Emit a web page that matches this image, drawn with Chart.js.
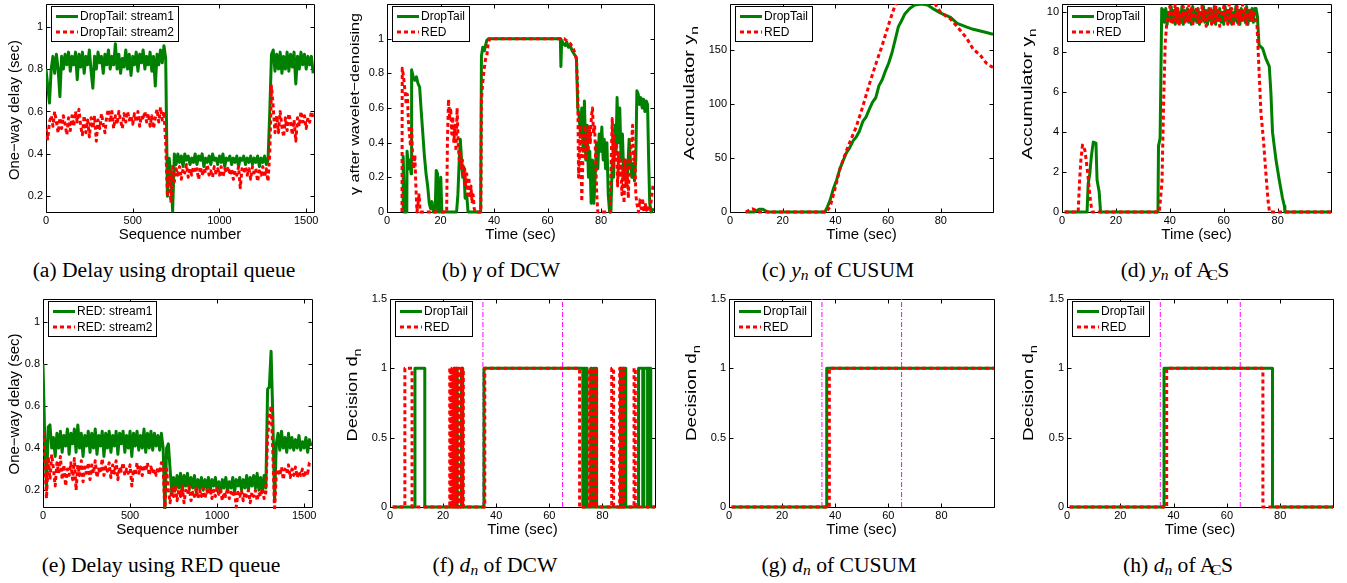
<!DOCTYPE html>
<html><head><meta charset="utf-8">
<script src="https://cdn.jsdelivr.net/npm/chart.js@4.4.0/dist/chart.umd.min.js"></script>
<style>
html,body{margin:0;padding:0;background:#fff;width:1347px;height:583px;overflow:hidden;position:relative;}
canvas{position:absolute;}
.cap{position:absolute;width:320px;text-align:center;font-family:"Liberation Serif","Times New Roman",serif;font-size:20px;line-height:20px;color:#000;white-space:nowrap;transform:scaleX(1.08);}
.cap sub{font-size:0.72em;vertical-align:-0.22em;line-height:0;}
.acs{font-size:0.78em;position:relative;top:0.2em;margin-left:-0.3em;margin-right:-0.04em;}
</style></head><body>
<canvas id="ca"></canvas><canvas id="cb"></canvas><canvas id="cc"></canvas><canvas id="cd"></canvas>
<canvas id="ce"></canvas><canvas id="cf"></canvas><canvas id="cg"></canvas><canvas id="ch"></canvas>
<div class="cap" style="left:4px;top:260px">(a) Delay using droptail queue</div>
<div class="cap" style="left:341px;top:260px">(b) <i>γ</i> of DCW</div>
<div class="cap" style="left:678px;top:260px">(c) <i>y</i><sub><i>n</i></sub> of CUSUM</div>
<div class="cap" style="left:1015px;top:260px">(d) <i>y</i><sub><i>n</i></sub> of A<span class="acs">C</span>S</div>
<div class="cap" style="left:1px;top:555px">(e) Delay using RED queue</div>
<div class="cap" style="left:335px;top:555px">(f) <i>d</i><sub><i>n</i></sub> of DCW</div>
<div class="cap" style="left:679px;top:555px">(g) <i>d</i><sub><i>n</i></sub> of CUSUM</div>
<div class="cap" style="left:1018px;top:555px">(h) <i>d</i><sub><i>n</i></sub> of A<span class="acs">C</span>S</div>
<script>
// ---------- tick labels ----------
const TICKS_SEQ = [0, 500, 1000, 1500];
const TICKS_TIME = [0, 20, 40, 60, 80];
const TICKS_DELAY = [0.2, 0.4, 0.6, 0.8, 1];
const TICKS_GAMMA = [0, 0.2, 0.4, 0.6, 0.8, 1];
const TICKS_CUSUM = [0, 50, 100, 150];
const TICKS_ACS = [0, 2, 4, 6, 8, 10];
const TICKS_DEC = [0, 0.5, 1, 1.5];
const ATTACK_LINES = [35, 65];

// ---------- (a) droptail delays, one value every SEQ_STEP sequence numbers ----------
const SEQ_STEP = 10;
const A_STREAM1 = [0.80,0.72,0.64,0.80,0.86,0.78,0.87,0.80,0.67,0.86,
0.80,0.87,0.82,0.88,0.79,0.86,0.82,0.88,0.75,0.87,
0.81,0.88,0.78,0.86,0.82,0.89,0.79,0.71,0.86,0.80,
0.88,0.83,0.86,0.78,0.87,0.82,0.89,0.80,0.86,0.82,
0.92,0.80,0.87,0.78,0.85,0.81,0.89,0.80,0.87,0.77,
0.86,0.82,0.88,0.79,0.87,0.83,0.89,0.80,0.86,0.82,
0.88,0.79,0.86,0.72,0.87,0.82,0.89,0.83,0.91,0.85,
0.20,0.38,0.30,0.13,0.40,0.35,0.40,0.36,0.39,0.34,
0.40,0.37,0.39,0.35,0.38,0.36,0.40,0.35,0.39,0.37,
0.40,0.34,0.38,0.36,0.39,0.35,0.40,0.37,0.38,0.35,
0.39,0.36,0.40,0.34,0.38,0.37,0.39,0.35,0.38,0.36,
0.39,0.34,0.38,0.37,0.39,0.35,0.38,0.36,0.39,0.35,
0.38,0.36,0.39,0.34,0.38,0.36,0.39,0.35,0.37,0.60,
0.87,0.89,0.79,0.87,0.80,0.88,0.78,0.86,0.80,0.88,
0.79,0.87,0.81,0.88,0.73,0.86,0.80,0.88,0.82,0.87,
0.80,0.86,0.82,0.86,0.78];
const A_STREAM2 = [0.52,0.47,0.55,0.58,0.53,0.60,0.55,0.50,0.57,0.52,
0.58,0.54,0.49,0.57,0.51,0.58,0.53,0.60,0.55,0.61,
0.53,0.49,0.58,0.50,0.56,0.48,0.57,0.52,0.58,0.46,
0.56,0.52,0.59,0.54,0.50,0.58,0.61,0.55,0.60,0.52,
0.58,0.54,0.60,0.56,0.52,0.59,0.55,0.60,0.56,0.58,
0.54,0.59,0.55,0.60,0.53,0.58,0.56,0.60,0.55,0.59,
0.53,0.58,0.52,0.57,0.61,0.55,0.62,0.56,0.60,0.45,
0.20,0.32,0.17,0.34,0.27,0.33,0.30,0.34,0.28,0.33,
0.31,0.35,0.29,0.33,0.30,0.34,0.31,0.33,0.28,0.34,
0.30,0.33,0.31,0.35,0.30,0.32,0.29,0.34,0.31,0.33,
0.30,0.34,0.29,0.33,0.31,0.34,0.30,0.33,0.28,0.32,
0.30,0.34,0.24,0.33,0.31,0.34,0.30,0.33,0.28,0.34,
0.31,0.33,0.27,0.32,0.30,0.34,0.29,0.33,0.27,0.40,
0.72,0.62,0.50,0.58,0.50,0.60,0.53,0.48,0.57,0.51,
0.59,0.55,0.49,0.56,0.46,0.57,0.53,0.60,0.55,0.58,
0.52,0.57,0.55,0.60,0.57];

// ---------- (e) RED delays ----------
const E_STREAM1 = [0.80,0.45,0.20,0.50,0.51,0.40,0.45,0.36,0.47,0.40,
0.48,0.38,0.46,0.41,0.49,0.37,0.47,0.42,0.49,0.38,
0.51,0.40,0.47,0.36,0.46,0.41,0.48,0.38,0.47,0.40,
0.49,0.37,0.46,0.41,0.48,0.36,0.47,0.40,0.48,0.38,
0.46,0.41,0.48,0.37,0.47,0.42,0.48,0.38,0.46,0.40,
0.48,0.36,0.47,0.41,0.48,0.39,0.46,0.40,0.49,0.38,
0.47,0.40,0.48,0.39,0.47,0.41,0.46,0.39,0.47,0.40,
0.10,0.40,0.42,0.30,0.18,0.26,0.20,0.27,0.21,0.28,
0.19,0.27,0.22,0.28,0.20,0.26,0.21,0.27,0.19,0.25,
0.21,0.26,0.20,0.25,0.21,0.26,0.19,0.25,0.22,0.26,
0.20,0.24,0.19,0.25,0.21,0.26,0.20,0.24,0.21,0.26,
0.19,0.25,0.22,0.26,0.20,0.25,0.21,0.27,0.20,0.26,
0.22,0.27,0.21,0.28,0.20,0.26,0.19,0.27,0.21,0.68,
0.69,0.86,0.55,0.15,0.42,0.47,0.39,0.48,0.40,0.45,
0.38,0.47,0.40,0.45,0.39,0.44,0.40,0.46,0.39,0.43,
0.40,0.45,0.38,0.44,0.41];
const E_STREAM2 = [0.48,0.35,0.16,0.36,0.25,0.37,0.30,0.22,0.33,0.28,
0.36,0.25,0.32,0.22,0.30,0.27,0.33,0.25,0.35,0.20,
0.32,0.27,0.34,0.24,0.31,0.28,0.33,0.25,0.32,0.28,
0.34,0.26,0.30,0.28,0.35,0.27,0.31,0.29,0.33,0.26,
0.32,0.28,0.34,0.25,0.31,0.29,0.33,0.27,0.30,0.28,
0.32,0.22,0.30,0.27,0.33,0.28,0.31,0.27,0.32,0.29,
0.33,0.27,0.31,0.28,0.30,0.27,0.31,0.28,0.33,0.30,
0.10,0.30,0.20,0.14,0.21,0.17,0.22,0.15,0.20,0.17,
0.22,0.14,0.20,0.18,0.22,0.15,0.19,0.17,0.21,0.16,
0.20,0.17,0.21,0.16,0.20,0.18,0.21,0.16,0.20,0.17,
0.21,0.18,0.20,0.15,0.19,0.17,0.21,0.16,0.19,0.17,
0.20,0.12,0.19,0.17,0.20,0.15,0.19,0.17,0.20,0.14,
0.19,0.17,0.20,0.15,0.19,0.17,0.21,0.16,0.19,0.45,
0.55,0.60,0.38,0.10,0.28,0.30,0.27,0.31,0.25,0.30,
0.28,0.32,0.26,0.30,0.27,0.31,0.26,0.29,0.27,0.30,
0.26,0.29,0.28,0.33,0.34];

// ---------- (b) gamma of DCW: [time, gamma] ----------
const B_DROPTAIL = [[6.0,0],[6.05,0.32],[6.6,0],[7.4,0],[7.5,0.35],[8.1,0.25],[8.6,0.30],[9.0,0.22],[9.2,0.82],[9.8,0.78],
[10.4,0.76],[11.0,0.78],[11.6,0.74],[12.2,0.72],[12.8,0.58],[13.4,0.45],[14.0,0.32],[14.6,0.22],[15.2,0.15],[15.8,0.05],
[16.3,0.02],[16.8,0.06],[17.3,0],[18.0,0],[18.4,0.24],[18.9,0.22],[19.2,0],[19.8,0],[20.1,0.20],[20.5,0],
[26.0,0],[26.5,0.10],[27.0,0.30],[27.4,0.42],[27.8,0.32],[28.3,0.20],[28.7,0.26],[29.2,0.08],[29.8,0.10],[30.3,0],
[35.0,0],[35.3,0.90],[35.8,0.95],[36.4,0.93],[36.8,0.96],[37.3,0.99],[38.0,1],[64.8,1],[65.0,0.84],[65.3,0.99],
[66.0,0.97],[66.6,0.96],[67.2,0.98],[67.8,0.95],[68.5,0.96],[69.2,0.93],[70.0,0.91],[70.8,0.89],[71.3,0.60],[71.8,0.55],
[72.3,0.45],[72.8,0.60],[73.3,0.35],[73.8,0.64],[74.3,0.30],[74.8,0.50],[75.3,0.20],[75.8,0.35],[76.3,0.05],[76.8,0.30],
[77.3,0.05],[77.8,0.20],[78.3,0.40],[78.8,0.25],[79.3,0.45],[79.8,0.35],[80.3,0.49],[80.8,0.30],[81.2,0.42],[81.7,0.25],
[82.2,0.40],[82.7,0.10],[83.2,0],[83.7,0],[84.2,0.30],[84.7,0.20],[85.2,0.50],[85.6,0.35],[86.0,0.66],[86.5,0.40],
[87.0,0.60],[87.5,0.30],[88.0,0.45],[88.5,0.20],[89.0,0.30],[89.5,0.15],[90.0,0.25],[90.5,0.42],[91.0,0.30],[91.5,0.20],
[92.0,0.28],[92.5,0.18],[93.0,0.30],[93.4,0.70],[93.9,0.68],[94.4,0.62],[94.9,0.66],[95.4,0.60],[95.9,0.65],[96.4,0.58],
[96.9,0.64],[97.4,0.62],[97.8,0.30],[98.2,0.05],[98.7,0],[99.8,0.02]];
const B_RED = [[5.6,0],[5.7,0.83],[6.2,0.78],[6.7,0.70],[7.2,0.62],[7.6,0.68],[8.0,0.52],[8.4,0.45],[8.8,0.38],[9.2,0.48],
[9.6,0.30],[10.0,0.25],[10.4,0.33],[10.8,0.15],[11.2,0],[12.0,0.10],[12.4,0],[22.3,0],[22.6,0.42],[23.0,0.65],
[23.4,0.55],[23.8,0.60],[24.2,0.45],[24.6,0.55],[25.0,0.40],[25.4,0.50],[25.8,0.35],[26.2,0.60],[26.6,0.40],[27.0,0.30],
[27.4,0.35],[27.8,0.25],[28.2,0.30],[28.6,0.20],[29.0,0.25],[29.4,0.15],[29.8,0.22],[30.2,0.10],[30.6,0.20],[31.0,0.08],
[31.4,0.15],[31.8,0.05],[32.2,0.10],[32.6,0.02],[33.0,0],[35.1,0],[35.3,0.65],[35.8,0.75],[36.3,0.82],[36.8,0.88],
[37.3,0.90],[37.8,0.97],[38.4,1],[66.2,1],[67.0,0.99],[67.8,0.98],[68.6,0.97],[69.4,0.95],[70.2,0.92],[70.8,0.88],
[71.3,0.70],[71.6,0.20],[72.0,0.35],[72.4,0.50],[72.8,0.06],[73.2,0.30],[73.6,0.45],[74.0,0.50],[74.4,0.30],[74.8,0.45],
[75.2,0.35],[75.6,0.50],[76.0,0.40],[76.4,0.55],[76.8,0.60],[77.2,0.45],[77.6,0.50],[78.0,0.30],[78.4,0.10],[78.8,0],
[83.4,0],[83.8,0.30],[84.2,0.54],[84.6,0.25],[85.0,0.45],[85.4,0.30],[85.8,0.40],[86.2,0.15],[86.6,0.35],[87.0,0.20],
[87.4,0.30],[87.8,0.10],[88.2,0.25],[88.6,0.05],[89.0,0.30],[89.4,0.15],[89.8,0.22],[90.2,0.08],[90.6,0.30],[91.0,0.35],
[91.4,0.40],[91.8,0.50],[92.2,0.30],[92.6,0.35],[93.0,0.10],[93.4,0.05],[94.0,0],[94.5,0.07],[95.0,0.02],[95.5,0.08],
[96.0,0],[96.5,0.05],[97.0,0.01],[97.5,0.04],[98.0,0],[98.5,0.03],[99.0,0.10],[99.5,0.16]];

// ---------- (c) CUSUM accumulator: [time, y] ----------
const C_DROPTAIL = [[6,0],[9,0],[10,1],[11,2.5],[12.5,2.5],[13.5,1],[14.5,0],[36,0],[37,5],[38,11],
[39.3,22],[40.5,30],[41.7,40],[43,48],[44.2,55],[45.5,60],[46.7,66],[48,70],[49.1,75],[50.4,84],
[51.6,88],[52.8,95],[54.1,102],[55.3,106],[56.5,117],[57.8,123],[59,131],[60.2,138],[61.5,148],[62.7,160],
[63.9,172],[65,177],[66.4,184],[68.3,189],[70.1,192],[72.6,193],[75,192],[77.5,188],[80,184.5],[83.7,180.5],
[86.2,175],[89.9,171.5],[92.3,169.5],[95,168],[97.3,166.5],[99.8,165]];
const C_RED = [[6,0],[7.5,2],[8.5,3],[9.5,2],[10.5,0],[36.5,0],[38,5],[40,23],[41.7,40],[44.2,57],
[46,68],[47.9,79],[50.4,98],[52.8,118],[55.3,137],[57.8,155],[60.2,174],[62.1,188],[64,200],[67,210],
[70,214],[73,212],[76,202],[78.1,192],[80,185],[83.7,179],[86.2,172],[89.9,161],[92.3,151],[94.8,146],
[97.3,138],[99.8,134]];

// ---------- (d) ACS accumulator ----------
const D_DROPTAIL_RISE = [[1,0],[9.3,0],[9.7,1.4],[10.3,1.9],[10.9,2.8],[11.6,3.5],[12.6,3.45],[13.0,1.6],[13.8,1.0],[14.3,0],
[35.6,0],[35.8,3.3],[36.4,3.7],[37.0,10.2]];
const D_PLATEAU_STEP = 0.5;
const D_DROPTAIL_PLATEAU_START = 37.5;
const D_DROPTAIL_PLATEAU = [10.1,9.5,10.2,9.4,10.0,9.6,10.3,9.5,10.1,9.4,
10.2,9.6,10.0,9.5,10.3,9.4,10.1,9.6,10.2,9.5,
10.0,9.4,10.3,9.6,10.1,9.5,10.2,9.4,10.0,9.6,
10.3,9.5,10.1,9.4,10.2,9.6,10.0,9.5,10.3,9.4,
10.1,9.6,10.2,9.5,10.0,9.4,10.3,9.6,10.1,9.5,
10.2,9.4,10.0,9.6,10.3,9.5,10.1,9.4,10.2,9.6,
10.0,9.5,10.3,9.4,10.1,9.6,10.2,9.5,10.2];
const D_DROPTAIL_FALL = [[72.0,10.2],[72.5,9.8],[73.1,8.36],[74.4,8.2],[75.6,7.7],[76.9,7.3],[77.5,6.0],[78.1,4.0],[79.4,2.6],[80.6,1.6],
[81.8,0.7],[82.5,0.3],[82.7,0],[99.8,0]];
const D_RED_RISE = [[1,0],[6.0,0],[6.5,1.5],[7.0,2.6],[7.6,3.35],[8.5,3.1],[9.5,2.0],[10.6,0.5],[11.2,0],[36.1,0],
[37.1,1.5],[37.7,5.5],[38.3,8.5],[38.9,9.5]];
const D_RED_PLATEAU_START = 39.5;
const D_RED_PLATEAU = [9.8,10.3,9.4,10.1,9.6,10.4,9.5,10.2,9.3,10.0,
9.7,10.3,9.4,10.1,9.5,10.4,9.6,10.2,9.3,10.0,
9.8,10.3,9.5,10.1,9.4,10.4,9.6,10.2,9.3,10.0,
9.7,10.3,9.4,10.1,9.5,10.4,9.6,10.2,9.3,10.0,
9.8,10.3,9.5,10.1,9.4,10.4,9.6,10.2,9.3,10.0,
9.7,10.3,9.4,10.1,9.5,10.4,9.6,10.2,9.3,10.0,
9.8,10.2,9.5,10.0,9.7,9.6];
const D_RED_FALL = [[72.3,9.5],[72.8,8.0],[73.8,5.0],[74.8,3.5],[75.6,2.0],[76.5,0.5],[77.0,0],[99.8,0]];

// ---------- (f)(g)(h) decisions: [time from which value holds, value] ----------
const F_DROPTAIL = [[1,0],[9.4,1],[13.1,0],[24.2,1],[24.6,0],[25.0,1],[25.3,0],[26.9,1],[27.4,0],[35.4,1],
[72.6,0],[73.0,1],[73.4,0],[73.8,1],[74.2,0],[75.6,1],[76.0,0],[76.6,1],[77.0,0],[77.4,1],
[77.8,0],[86.8,1],[87.4,0],[88.0,1],[88.8,0],[93.6,1],[95.2,0],[95.6,1],[97.0,0],[97.3,1],
[98.2,0],[99.8,0]];
const F_RED = [[1,0],[5.6,1],[8.3,0],[22.5,1],[22.9,0],[23.3,1],[23.7,0],[24.1,1],[24.5,0],[24.9,1],
[25.3,0],[25.7,1],[26.1,0],[27.0,1],[27.6,0],[35.7,1],[71.4,0],[75.0,1],[75.4,0],[75.8,1],
[76.2,0],[76.6,1],[77.0,0],[77.4,1],[77.8,0],[83.5,1],[84.2,0],[86.5,1],[87.0,0],[87.6,1],
[88.0,0],[91.9,1],[92.4,0],[99.8,0]];
const G_DROPTAIL = [[1,0],[36.8,1],[99.8,1]];
const G_RED = [[1,0],[37.8,1],[99.8,1]];
const H_DROPTAIL = [[1,0],[36.4,1],[77.1,0],[99.8,0]];
const H_RED = [[1,0],[37.4,1],[73.5,0],[99.8,0]];

// ---------- helpers ----------
const GREEN = '#008000', RED = '#ff0000', MAG = '#ff00ff';
const SANS = '"Liberation Sans", Arial, Helvetica, sans-serif';
Chart.defaults.font.family = SANS;

const pairs = arr => arr.map(p => ({x: p[0], y: p[1]}));
const sampled = (start, step, vals) => vals.map((v, i) => ({x: start + i * step, y: v}));

function line(data, color, extra) {
  return Object.assign({data, borderColor: color, borderWidth: 3, pointRadius: 0, pointHoverRadius: 0,
    fill: false, tension: 0, borderJoinStyle: 'round', borderCapStyle: 'butt',
    clip: {left: 0, top: 0, right: 0, bottom: 2}}, extra || {});
}
const greenLine = (d, e) => line(d, GREEN, Object.assign({order: 1}, e));
const redLine = (d, e) => line(d, RED, Object.assign({order: 0, borderDash: [4, 3]}, e));
const attackLines = ymax => ATTACK_LINES.map(t => line([{x: t, y: 0}, {x: t, y: ymax}], MAG,
  {borderWidth: 1, borderDash: [5, 2, 1, 2], order: 2}));

function decor(spec, x0, y0) {
  return {
    id: 'decor',
    beforeDatasetsDraw(chart) {
      const {ctx, chartArea: a, scales: {x, y}} = chart;
      ctx.save();
      ctx.strokeStyle = '#000'; ctx.lineWidth = 1; ctx.setLineDash([]);
      const L = Math.round(a.left) + 0.5, R = Math.round(a.right) + 0.5;
      const T = Math.round(a.top) + 0.5, B = Math.round(a.bottom) + 0.5;
      ctx.beginPath();
      ctx.rect(L, T, R - L, B - T);
      const tl = 4;
      spec.xTicks.forEach(v => { const px = Math.round(x.getPixelForValue(v)) + 0.5;
        ctx.moveTo(px, B); ctx.lineTo(px, B - tl); ctx.moveTo(px, T); ctx.lineTo(px, T + tl); });
      spec.yTicks.forEach(v => { const py = Math.round(y.getPixelForValue(v)) + 0.5;
        ctx.moveTo(L, py); ctx.lineTo(L + tl, py); ctx.moveTo(R, py); ctx.lineTo(R - tl, py); });
      ctx.stroke();
      ctx.restore();
    },
    afterDraw(chart) {
      const {ctx, chartArea: a} = chart;
      ctx.save();
      // legend box
      ctx.font = '12px ' + SANS;
      const items = spec.legend;
      const tw = Math.max(...items.map(it => ctx.measureText(it.label).width));
      const bx = Math.round(a.left) + 5, by = Math.round(a.top) + 2;
      const bw = Math.round(5 + 22 + 2 + tw + 4), bh = 35;
      ctx.fillStyle = '#fff'; ctx.fillRect(bx, by, bw, bh);
      ctx.strokeStyle = '#000'; ctx.lineWidth = 1; ctx.setLineDash([]);
      ctx.strokeRect(bx + 0.5, by + 0.5, bw, bh);
      items.forEach((it, i) => {
        const yy = by + 10.5 + i * 15.5;
        ctx.beginPath(); ctx.setLineDash(it.dash); ctx.strokeStyle = it.color; ctx.lineWidth = 3;
        ctx.moveTo(bx + 5, yy); ctx.lineTo(bx + 27, yy); ctx.stroke(); ctx.setLineDash([]);
        ctx.fillStyle = '#000'; ctx.textBaseline = 'middle'; ctx.textAlign = 'left';
        ctx.fillText(it.label, bx + 29, yy + 0.5);
      });
      // x title
      ctx.font = '15px ' + SANS; ctx.fillStyle = '#000'; ctx.textAlign = 'center'; ctx.textBaseline = 'middle';
      ctx.fillText(spec.xTitle, (a.left + a.right) / 2, a.bottom + 23);
      // y title (rotated, optional subscript)
      const t = spec.yTitle;
      ctx.translate(t.cx - x0, t.cy - y0); ctx.rotate(-Math.PI / 2);
      const mainFont = t.size + 'px ' + SANS, subFont = Math.round(t.size * 0.75) + 'px ' + SANS;
      ctx.font = mainFont; const wm = ctx.measureText(t.text).width;
      let ws = 0; if (t.sub) { ctx.font = subFont; ws = ctx.measureText(t.sub).width; }
      const total = wm + ws; const k = t.len / total;
      ctx.scale(k, 1);
      ctx.textAlign = 'left'; ctx.textBaseline = 'middle';
      ctx.font = mainFont; ctx.fillText(t.text, -total / 2, 0);
      if (t.sub) { ctx.font = subFont; ctx.fillText(t.sub, -total / 2 + wm, 5); }
      ctx.restore();
    }
  };
}

function panel(id, spec) {
  const x0 = spec.L - 50, y0 = spec.T - 12;
  const W = spec.R - x0 + 14, H = spec.B - y0 + 34;
  const cv = document.getElementById(id);
  cv.width = W; cv.height = H;
  cv.style.left = x0 + 'px'; cv.style.top = y0 + 'px';
  cv.style.width = W + 'px'; cv.style.height = H + 'px';
  const tickFont = {family: SANS, size: 11};
  new Chart(cv, {
    type: 'line',
    data: {datasets: spec.datasets},
    options: {
      responsive: false, animation: false, devicePixelRatio: 1,
      layout: {padding: {left: 0, top: spec.T - y0, right: W - (spec.R - x0), bottom: 0}},
      plugins: {legend: {display: false}, tooltip: {enabled: false}},
      events: [],
      scales: {
        x: {type: 'linear', min: spec.xMin, max: spec.xMax,
          grid: {display: false, drawTicks: false}, border: {display: false},
          ticks: {font: tickFont, color: '#000', padding: 2, maxRotation: 0, minRotation: 0, autoSkip: false,
            callback: v => String(v)},
          afterBuildTicks: s => { s.ticks = spec.xTicks.map(v => ({value: v})); },
          afterFit: s => { s.height = H - (spec.B - y0); s.paddingLeft = 0; s.paddingRight = 0; }
        },
        y: {type: 'linear', min: spec.yMin, max: spec.yMax,
          grid: {display: false, drawTicks: false}, border: {display: false},
          ticks: {font: tickFont, color: '#000', padding: 3, autoSkip: false, callback: v => String(v)},
          afterBuildTicks: s => { s.ticks = spec.yTicks.map(v => ({value: v})); },
          afterFit: s => { s.width = spec.L - x0; s.paddingTop = 0; s.paddingBottom = 0; }
        }
      }
    },
    plugins: [decor(spec, x0, y0)]
  });
}

const LEG_DR = [{label: 'DropTail', color: GREEN, dash: []}, {label: 'RED', color: RED, dash: [4, 3]}];

panel('ca', {L: 46, T: 4, R: 314, B: 212, xMin: 0, xMax: 1545, yMin: 0.126, yMax: 1.107,
  xTicks: TICKS_SEQ, yTicks: TICKS_DELAY, xTitle: 'Sequence number',
  yTitle: {text: 'One−way delay (sec)', size: 15, cx: 15, cy: 110, len: 140},
  legend: [{label: 'DropTail: stream1', color: GREEN, dash: []}, {label: 'DropTail: stream2', color: RED, dash: [4, 3]}],
  datasets: [greenLine(sampled(0, SEQ_STEP, A_STREAM1)), redLine(sampled(0, SEQ_STEP, A_STREAM2))]});

panel('cb', {L: 387, T: 4, R: 654, B: 212, xMin: 0, xMax: 99.8, yMin: 0, yMax: 1.2,
  xTicks: TICKS_TIME, yTicks: TICKS_GAMMA, xTitle: 'Time (sec)',
  yTitle: {text: 'γ after wavelet−denoising', size: 13, cx: 355, cy: 104, len: 182},
  legend: LEG_DR,
  datasets: [greenLine(pairs(B_DROPTAIL)), redLine(pairs(B_RED))]});

panel('cc', {L: 730, T: 4, R: 993, B: 212, xMin: 0, xMax: 99.8, yMin: 0, yMax: 193,
  xTicks: TICKS_TIME, yTicks: TICKS_CUSUM, xTitle: 'Time (sec)',
  yTitle: {text: 'Accumulator y', sub: 'n', size: 14, cx: 690, cy: 93, len: 134},
  legend: LEG_DR,
  datasets: [greenLine(pairs(C_DROPTAIL)), redLine(pairs(C_RED))]});

panel('cd', {L: 1062, T: 4, R: 1331, B: 212, xMin: 0, xMax: 99.8, yMin: 0, yMax: 10.42,
  xTicks: TICKS_TIME, yTicks: TICKS_ACS, xTitle: 'Time (sec)',
  yTitle: {text: 'Accumulator y', sub: 'n', size: 14, cx: 1028, cy: 94, len: 131},
  legend: LEG_DR,
  datasets: [
    greenLine(pairs(D_DROPTAIL_RISE).concat(sampled(D_DROPTAIL_PLATEAU_START, D_PLATEAU_STEP, D_DROPTAIL_PLATEAU), pairs(D_DROPTAIL_FALL))),
    redLine(pairs(D_RED_RISE).concat(sampled(D_RED_PLATEAU_START, D_PLATEAU_STEP, D_RED_PLATEAU), pairs(D_RED_FALL)))]});

panel('ce', {L: 43, T: 299, R: 312, B: 507, xMin: 0, xMax: 1545, yMin: 0.12, yMax: 1.108,
  xTicks: TICKS_SEQ, yTicks: TICKS_DELAY, xTitle: 'Sequence number',
  yTitle: {text: 'One−way delay (sec)', size: 15, cx: 15, cy: 404, len: 141},
  legend: [{label: 'RED: stream1', color: GREEN, dash: []}, {label: 'RED: stream2', color: RED, dash: [4, 3]}],
  datasets: [greenLine(sampled(0, SEQ_STEP, E_STREAM1)), redLine(sampled(0, SEQ_STEP, E_STREAM2))]});

panel('cf', {L: 390, T: 299, R: 655, B: 507, xMin: 0, xMax: 99.8, yMin: 0, yMax: 1.5,
  xTicks: TICKS_TIME, yTicks: TICKS_DEC, xTitle: 'Time (sec)',
  yTitle: {text: 'Decision d', sub: 'n', size: 14, cx: 353, cy: 395, len: 93},
  legend: LEG_DR,
  datasets: [greenLine(pairs(F_DROPTAIL), {stepped: true}), redLine(pairs(F_RED), {stepped: true})].concat(attackLines(1.5))});

panel('cg', {L: 729, T: 299, R: 994, B: 507, xMin: 0, xMax: 99.8, yMin: 0, yMax: 1.5,
  xTicks: TICKS_TIME, yTicks: TICKS_DEC, xTitle: 'Time (sec)',
  yTitle: {text: 'Decision d', sub: 'n', size: 14, cx: 692, cy: 393, len: 96},
  legend: LEG_DR,
  datasets: [greenLine(pairs(G_DROPTAIL), {stepped: true}), redLine(pairs(G_RED), {stepped: true})].concat(attackLines(1.5))});

panel('ch', {L: 1067, T: 299, R: 1333, B: 507, xMin: 0, xMax: 99.8, yMin: 0, yMax: 1.5,
  xTicks: TICKS_TIME, yTicks: TICKS_DEC, xTitle: 'Time (sec)',
  yTitle: {text: 'Decision d', sub: 'n', size: 14, cx: 1029, cy: 393, len: 96},
  legend: LEG_DR,
  datasets: [greenLine(pairs(H_DROPTAIL), {stepped: true}), redLine(pairs(H_RED), {stepped: true})].concat(attackLines(1.5))});
</script>
</body></html>
